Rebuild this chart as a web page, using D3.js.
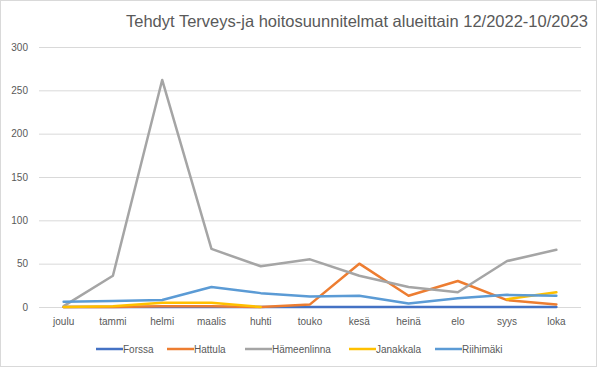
<!DOCTYPE html>
<html><head><meta charset="utf-8">
<script src="https://cdn.jsdelivr.net/npm/d3@7"></script>
<style>body{margin:0;background:#fff}svg{display:block}</style>
</head><body>
<script>
const categories = ["joulu","tammi","helmi","maalis","huhti","touko","kesä","heinä","elo","syys","loka"];
const seriesNames = ["Forssa","Hattula","Hämeenlinna","Janakkala","Riihimäki"];
const forssa = [0,0,0,0,0,0,0,0,0,0,0];
const hattula = [0,0,1,1,0,3,50,13,30,8,3];
const hameenlinna = [1,36,262,67,47,55,36,23,17,53,66];
const janakkala = [0,1,5,5,0,null,null,null,null,9,17];
const riihimaki = [6,7,8,23,16,12,13,4,10,14,13];
const yTicks = [0,50,100,150,200,250,300];
const colors = ["#4472C4","#ED7D31","#A5A5A5","#FFC000","#5B9BD5"];
const title = "Tehdyt Terveys-ja hoitosuunnitelmat alueittain 12/2022-10/2023";

const W=597,H=367;
const svg=d3.select("body").append("svg").attr("width",W).attr("height",H);
svg.append("rect").attr("x",0.5).attr("y",0.5).attr("width",W-1).attr("height",H-1).attr("fill","#fff").attr("stroke","#d9d9d9");
const font="'Liberation Sans', Arial, sans-serif";
svg.append("text").attr("x",588).attr("y",27).attr("text-anchor","end").attr("font-family",font).attr("font-size",16.5).attr("fill","#595959").text(title);

const x=d3.scaleBand().domain(categories).range([39,581]);
const y=d3.scaleLinear().domain([0,300]).range([307,47]);

const g=svg.append("g");
g.selectAll("line.grid").data(yTicks).join("line").attr("x1",39).attr("x2",581)
  .attr("y1",d=>y(d)+0.5).attr("y2",d=>y(d)+0.5).attr("stroke","#d9d9d9").attr("stroke-width",1);
g.selectAll("text.yt").data(yTicks).join("text").attr("x",28).attr("y",d=>y(d)+3.5)
  .attr("text-anchor","end").attr("font-family",font).attr("font-size",10).attr("fill","#595959").text(d=>d);
g.selectAll("text.xt").data(categories).join("text").attr("x",d=>x(d)+x.bandwidth()/2).attr("y",325)
  .attr("text-anchor","middle").attr("font-family",font).attr("font-size",10).attr("fill","#595959").text(d=>d);

const data=[forssa,hattula,hameenlinna,janakkala,riihimaki];
const line=d3.line().defined(d=>d!=null).x((d,i)=>x(categories[i])+x.bandwidth()/2).y(d=>y(d));
data.forEach((s,k)=>{
  svg.append("path").attr("d",line(s)).attr("fill","none").attr("stroke",colors[k])
    .attr("stroke-width",2.5).attr("stroke-linejoin","round").attr("stroke-linecap","round");
});

const legX=[96,167,245,349,435];
seriesNames.forEach((n,k)=>{
  svg.append("line").attr("x1",legX[k]).attr("x2",legX[k]+27).attr("y1",349).attr("y2",349)
    .attr("stroke",colors[k]).attr("stroke-width",2.5);
  svg.append("text").attr("x",legX[k]+27).attr("y",352.5).attr("font-family",font).attr("font-size",10)
    .attr("fill","#595959").text(n);
});
</script>
</body></html>
